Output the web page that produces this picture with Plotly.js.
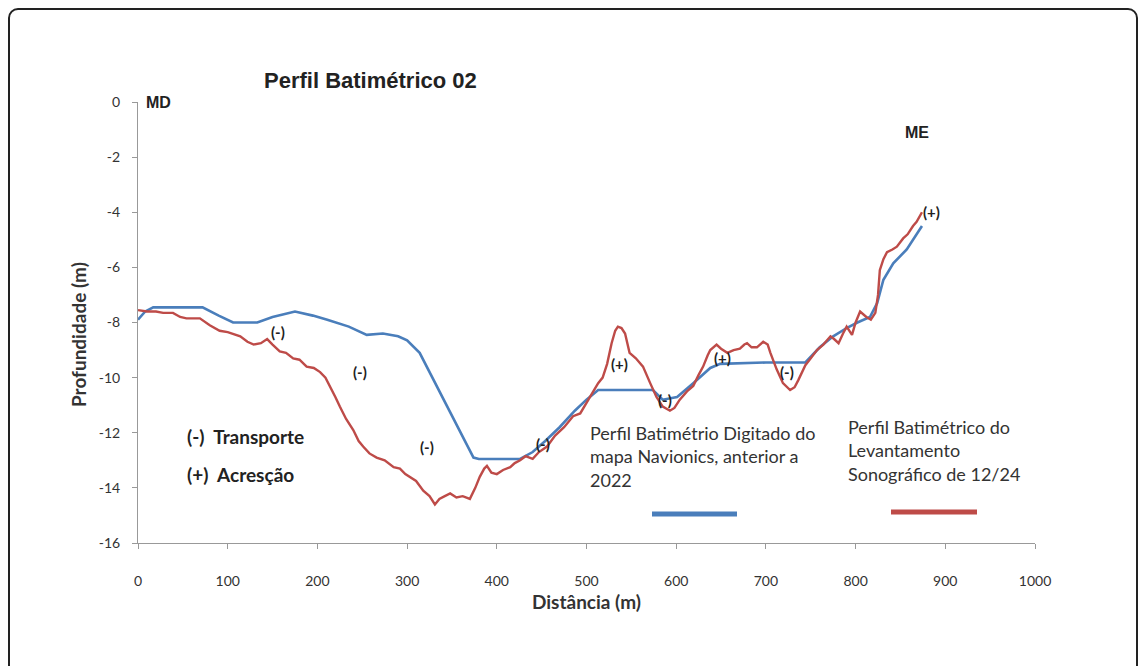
<!DOCTYPE html>
<html>
<head>
<meta charset="utf-8">
<script src="https://cdn.plot.ly/plotly-3.0.1.min.js"></script>
<style>
  html, body { margin: 0; padding: 0; background: #fff; }
  #wrap { position: relative; width: 1148px; height: 666px; overflow: hidden; }
  #chart { width: 1148px; height: 666px; }
  #frame { position: absolute; left: 8px; top: 8px; width: 1130px; height: 700px;
           border: 2px solid #222; border-radius: 10px; pointer-events: none; box-sizing: border-box; }
</style>
</head>
<body>
<div id="wrap"><div id="chart"></div><div id="frame"></div></div>
<script>
// Navionics profile (before 2022)
const navDist = [0, 8, 17, 40, 72, 90, 106, 133, 150, 175, 195, 211, 235, 255, 273, 290, 300, 314, 333, 352, 374, 380, 426, 440, 454, 470, 487, 500, 513, 540, 574, 585, 601, 619, 638, 649, 700, 744, 760, 775, 790, 802, 816, 824, 831, 842, 857, 874];
const navDepth = [-7.9, -7.6, -7.45, -7.45, -7.45, -7.75, -8.0, -8.0, -7.8, -7.6, -7.75, -7.9, -8.15, -8.45, -8.4, -8.5, -8.65, -9.1, -10.3, -11.5, -12.9, -12.95, -12.95, -12.7, -12.3, -11.8, -11.2, -10.8, -10.45, -10.45, -10.45, -10.8, -10.7, -10.2, -9.65, -9.5, -9.45, -9.45, -8.9, -8.5, -8.2, -8.0, -7.8, -7.3, -6.45, -5.85, -5.35, -4.5];

// Sonographic survey profile (12/24)
const sonDist = [0, 10, 20, 28, 39, 47, 54, 69, 80, 91, 100, 114, 122, 129, 137, 144, 150, 158, 165, 173, 180, 188, 196, 203, 209, 214, 220, 225, 232, 240, 246, 251, 258, 266, 275, 285, 292, 298, 303, 310, 318, 325, 331, 336, 342, 348, 355, 362, 370, 376, 381, 386, 389, 394, 400, 407, 415, 420, 426, 432, 440, 447, 456, 465, 475, 485, 493, 500, 507, 513, 518, 523, 528, 532, 535, 539, 543, 548, 555, 563, 571, 578, 585, 593, 598, 604, 612, 619, 625, 630, 635, 638, 645, 650, 657, 664, 671, 676, 679, 684, 690, 697, 702, 705, 712, 719, 727, 732, 736, 740, 744, 750, 757, 764, 772, 776, 781, 786, 790, 796, 800, 805, 812, 817, 822, 825, 827, 831, 835, 841, 846, 853, 858, 864, 868, 874];
const sonDepth = [-7.55, -7.6, -7.6, -7.65, -7.65, -7.8, -7.85, -7.85, -8.1, -8.3, -8.35, -8.5, -8.7, -8.8, -8.75, -8.6, -8.8, -9.05, -9.1, -9.3, -9.35, -9.6, -9.65, -9.8, -10.0, -10.3, -10.7, -11.05, -11.5, -11.9, -12.3, -12.5, -12.75, -12.9, -13.0, -13.25, -13.3, -13.5, -13.6, -13.75, -14.1, -14.3, -14.6, -14.4, -14.3, -14.2, -14.35, -14.3, -14.4, -14.0, -13.6, -13.3, -13.2, -13.45, -13.5, -13.35, -13.25, -13.1, -13.0, -12.85, -12.95, -12.7, -12.5, -12.1, -11.8, -11.4, -11.3, -10.9, -10.55, -10.2, -10.0, -9.5, -8.75, -8.3, -8.15, -8.2, -8.4, -9.1, -9.3, -9.6, -10.2, -10.7, -11.05, -11.2, -11.1, -10.8, -10.5, -10.3, -9.9, -9.6, -9.2, -9.0, -8.8, -8.95, -9.1, -9.0, -8.95, -8.8, -8.75, -8.9, -8.9, -8.7, -8.8, -9.1, -9.7, -10.2, -10.45, -10.35, -10.1, -9.8, -9.55, -9.3, -9.0, -8.8, -8.5, -8.6, -8.75, -8.4, -8.15, -8.45, -8.0, -7.6, -7.8, -7.9, -7.65, -7.0, -6.1, -5.7, -5.45, -5.35, -5.25, -4.95, -4.8, -4.5, -4.35, -4.0];

// Change markers: (-) transport, (+) accretion
const markDist = [156, 247, 322, 451, 537, 587, 652, 723, 885];
const markDepth = [-8.35, -9.8, -12.5, -12.4, -9.5, -10.8, -9.3, -9.8, -4.0];
const markText = ['(-)', '(-)', '(-)', '(-)', '(+)', '(-)', '(+)', '(-)', '(+)'];

const xTicks = [0, 100, 200, 300, 400, 500, 600, 700, 800, 900, 1000];
const yTicks = [0, -2, -4, -6, -8, -10, -12, -14, -16];

const blue = '#4a7ebb';
const red = '#be4b48';
const calibri = 'Lato, "Open Sans", sans-serif';
const arial = '"Liberation Sans", Arial, sans-serif';

const traces = [
  { x: navDist, y: navDepth, mode: 'lines', line: { color: blue, width: 2.6 }, name: 'Navionics', hoverinfo: 'x+y' },
  { x: sonDist, y: sonDepth, mode: 'lines', line: { color: red, width: 2.4 }, name: 'Sonográfico', hoverinfo: 'x+y' }
];

const annotations = markText.map((t, i) => ({
  x: markDist[i], y: markDepth[i], xref: 'x', yref: 'y', text: '<b>' + t + '</b>',
  showarrow: false, font: { family: calibri, size: 15, color: '#222' }
}));

annotations.push(
  { xref: 'paper', yref: 'paper', x: 6 / 897, y: 1, xanchor: 'left', yanchor: 'middle', text: '<b>MD</b>', showarrow: false, font: { family: arial, size: 16, color: '#222' } },
  { xref: 'paper', yref: 'paper', x: 765 / 897, y: 1 - 30 / 441, xanchor: 'left', yanchor: 'middle', text: '<b>ME</b>', showarrow: false, font: { family: arial, size: 16, color: '#222' } },
  { xref: 'paper', yref: 'paper', x: 47 / 897, y: 1 - 334 / 441, xanchor: 'left', yanchor: 'middle', text: '<b>(-)  Transporte</b>', showarrow: false, font: { family: calibri, size: 19, color: '#222' } },
  { xref: 'paper', yref: 'paper', x: 47 / 897, y: 1 - 372 / 441, xanchor: 'left', yanchor: 'middle', text: '<b>(+)  Acresção</b>', showarrow: false, font: { family: calibri, size: 19, color: '#222' } },
  { xref: 'paper', yref: 'paper', x: 450 / 897, y: 1 - 354 / 441, xanchor: 'left', yanchor: 'middle', align: 'left',
    text: 'Perfil Batimétrio Digitado do<br>mapa Navionics, anterior a<br>2022', showarrow: false,
    font: { family: calibri, size: 18, color: '#333' } },
  { xref: 'paper', yref: 'paper', x: 708 / 897, y: 1 - 348 / 441, xanchor: 'left', yanchor: 'middle', align: 'left',
    text: 'Perfil Batimétrico do<br>Levantamento<br>Sonográfico de 12/24', showarrow: false,
    font: { family: calibri, size: 18, color: '#333' } },
  // y-axis title, placed where the reference shows it
  { xref: 'paper', yref: 'paper', x: -60 / 897, y: 1 - 233 / 441, xanchor: 'center', yanchor: 'middle', textangle: -90,
    text: '<b>Profundidade (m)</b>', showarrow: false, font: { family: calibri, size: 19, color: '#333' } }
);

const shapes = [
  { type: 'line', xref: 'paper', yref: 'paper', x0: 514 / 897, x1: 599 / 897, y0: 1 - 412 / 441, y1: 1 - 412 / 441, line: { color: blue, width: 5 } },
  { type: 'line', xref: 'paper', yref: 'paper', x0: 753 / 897, x1: 839 / 897, y0: 1 - 410 / 441, y1: 1 - 410 / 441, line: { color: red, width: 5 } }
];

const layout = {
  width: 1148, height: 666,
  margin: { l: 138, r: 113, t: 102, b: 123 },
  paper_bgcolor: '#fff', plot_bgcolor: '#fff',
  showlegend: false,
  title: { text: '<b>Perfil Batimétrico 02</b>', xref: 'container', yref: 'container', x: 264 / 1148, xanchor: 'left', y: 1 - 80 / 666, yanchor: 'middle',
           font: { family: arial, size: 22, color: '#222' } },
  xaxis: {
    range: [0, 1000], tickvals: xTicks, ticktext: xTicks.map(String),
    showline: true, linecolor: '#999', linewidth: 1, ticks: 'outside', ticklen: 5, tickcolor: '#999',
    showgrid: false, zeroline: false, ticklabelstandoff: 20,
    tickfont: { family: calibri, size: 14, color: '#333' },
    title: { text: '<b>Distância (m)</b>', font: { family: calibri, size: 19, color: '#333' }, standoff: 7 }
  },
  yaxis: {
    range: [-16, 0], tickvals: yTicks, ticktext: yTicks.map(String),
    showline: true, linecolor: '#999', linewidth: 1, ticks: 'outside', ticklen: 5, tickcolor: '#999',
    showgrid: false, zeroline: false, ticklabelstandoff: 9,
    tickfont: { family: calibri, size: 14, color: '#333' }
  },
  annotations: annotations,
  shapes: shapes
};

Plotly.newPlot('chart', traces, layout, { displayModeBar: false, staticPlot: true });
</script>
</body>
</html>
